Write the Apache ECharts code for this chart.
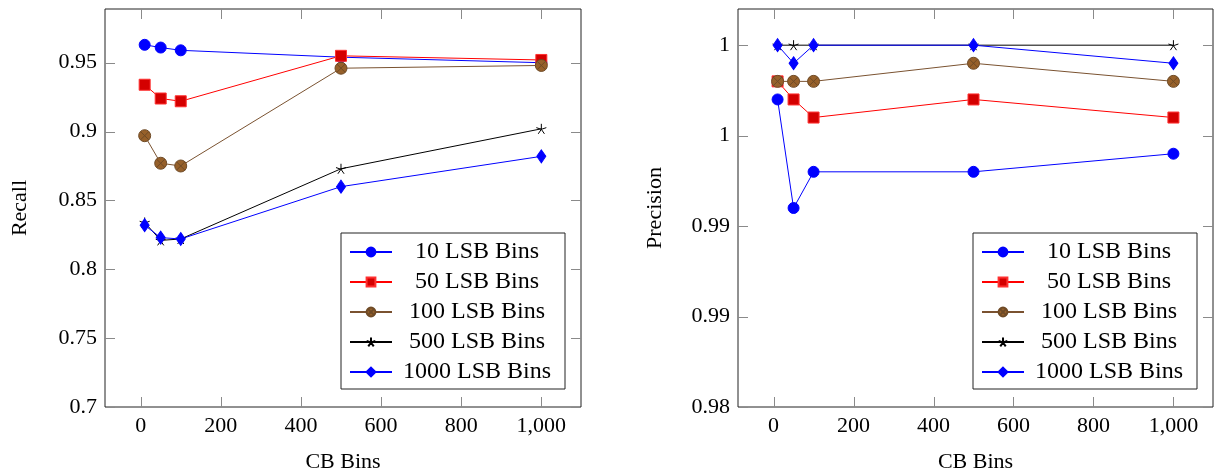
<!DOCTYPE html>
<html>
<head>
<meta charset="utf-8">
<script src="https://cdn.jsdelivr.net/npm/echarts@6/dist/echarts.min.js"></script>
<style>
  html, body { margin: 0; padding: 0; background: #fff; }
  #chart { width: 1214px; height: 475px; }
</style>
</head>
<body>
<div id="chart"></div>
<script>
const cbBins = [10, 50, 100, 500, 1000];
const seriesNames = ["10 LSB Bins", "50 LSB Bins", "100 LSB Bins", "500 LSB Bins", "1000 LSB Bins"];

const recall10 = [0.963, 0.961, 0.959, 0.954, 0.950];
const recall50 = [0.934, 0.924, 0.922, 0.955, 0.952];
const recall100 = [0.897, 0.877, 0.875, 0.946, 0.948];
const recall500 = [0.834, 0.821, 0.822, 0.873, 0.902];
const recall1000 = [0.832, 0.823, 0.822, 0.860, 0.882];

const precision10 = [0.997, 0.991, 0.993, 0.993, 0.994];
const precision50 = [0.998, 0.997, 0.996, 0.997, 0.996];
const precision100 = [0.998, 0.998, 0.998, 0.999, 0.998];
const precision500 = [1, 1, 1, 1, 1];
const precision1000 = [1, 0.999, 1, 1, 0.999];

const xTicks = [0, 200, 400, 600, 800, 1000];
const recallTicks = [0.7, 0.75, 0.8, 0.85, 0.9, 0.95];
const precisionTicks = [0.98, 0.985, 0.99, 0.995, 1];

const X_MIN = -89, X_MAX = 1099;
const FONT = '"Liberation Serif", "DejaVu Serif", serif';

const otimesPath = 'path://M0,-10 A10,10 0 1,1 0,10 A10,10 0 1,1 0,-10 Z M-7.07,-7.07 L7.07,7.07 M-7.07,7.07 L7.07,-7.07';
const starPath = 'path://M0,0 L0,-10 M0,0 L9.51,-3.09 M0,0 L5.88,8.09 M0,0 L-5.88,8.09 M0,0 L-9.51,-3.09';

// pgfplots default cycle list look
const styles = [
    { line: '#0000ff', symbol: 'circle', size: 11, fill: '#0000ff', border: '#0000ff' },
    { line: '#ff0000', symbol: 'rect', size: 11, fill: '#d40000', border: '#ff3030' },
    { line: '#7a5230', symbol: otimesPath, size: 12, fill: '#96602a', border: '#6e4a26' },
    { line: '#000000', symbol: starPath, size: 10, fill: '#000000', border: '#000000' },
    { line: '#0000ff', symbol: 'diamond', size: [9, 13], fill: '#0000ff', border: '#0000ff' }
];

const fmt = v => {
    const r = Math.round(v * 1000);
    return String(Math.round(r / 10) / 100);
};

function makeSeries(values, idx, axisIdx) {
    const s = styles[idx];
    return {
        name: seriesNames[idx],
        type: 'line',
        xAxisIndex: axisIdx,
        yAxisIndex: axisIdx,
        data: cbBins.map((x, i) => [x, values[i]]),
        symbol: s.symbol,
        symbolSize: s.size,
        showAllSymbol: true,
        z: 3,
        lineStyle: { color: s.line, width: 1 },
        itemStyle: { color: s.fill, borderColor: s.border, borderWidth: 1 },
        emphasis: { disabled: true }
    };
}

const labelStyle = { margin: 8, fontFamily: FONT, fontSize: 22, color: '#000' };
const nameStyle = { fontFamily: FONT, fontSize: 22, color: '#000' };

function plainAxis(extra) {
    return Object.assign({
        type: 'value',
        splitLine: { show: false },
        axisLine: { show: false, onZero: false },
        axisTick: { show: false },
        axisLabel: { show: false }
    }, extra);
}

function xAxes(gridIndex) {
    return [
        plainAxis({
            gridIndex: gridIndex, min: X_MIN, max: X_MAX, position: 'bottom',
            name: 'CB Bins', nameLocation: 'middle', nameGap: 44, nameTextStyle: nameStyle,
            axisLabel: Object.assign({ show: true, customValues: xTicks, formatter: v => v.toLocaleString('en-US') }, labelStyle)
        }),
        plainAxis({ gridIndex: gridIndex, min: X_MIN, max: X_MAX, position: 'top' })
    ];
}

function yAxes(gridIndex, name, min, max, ticks, gap) {
    return [
        plainAxis({
            gridIndex: gridIndex, min: min, max: max, position: 'left',
            name: name, nameLocation: 'middle', nameGap: gap, nameTextStyle: nameStyle,
            axisLabel: Object.assign({ show: true, customValues: ticks, formatter: fmt }, labelStyle)
        }),
        plainAxis({ gridIndex: gridIndex, min: min, max: max, position: 'right' })
    ];
}

function makeLegend(left) {
    return {
        data: seriesNames,
        orient: 'vertical',
        left: left, top: 233,
        z: 10,
        selectedMode: false,
        backgroundColor: '#fff',
        borderColor: '#222', borderWidth: 1, borderRadius: 0,
        padding: [7, 8, 5, 8],
        itemWidth: 42, itemHeight: 11, itemGap: 6,
        textStyle: {
            fontFamily: FONT, fontSize: 24, color: '#000',
            rich: { c: { width: 160, align: 'center', fontFamily: FONT, fontSize: 24, lineHeight: 24.5 } }
        },
        formatter: n => '{c|' + n + '}'
    };
}

const recallSets = [recall10, recall50, recall100, recall500, recall1000];
const precisionSets = [precision10, precision50, precision100, precision500, precision1000];

const series = [];
recallSets.forEach((v, i) => series.push(makeSeries(v, i, 0)));
precisionSets.forEach((v, i) => series.push(makeSeries(v, i, 2)));

const chart = echarts.init(document.getElementById('chart'));
chart.setOption({
    animation: false,
    grid: [
        { left: 105, right: 633, top: 9, bottom: 68, outerBoundsMode: 'none', containLabel: false,
          show: true, borderColor: '#222', borderWidth: 1, backgroundColor: 'transparent' },
        { left: 738, right: 1, top: 9, bottom: 68, outerBoundsMode: 'none', containLabel: false,
          show: true, borderColor: '#222', borderWidth: 1, backgroundColor: 'transparent' }
    ],
    xAxis: xAxes(0).concat(xAxes(1)),
    yAxis: yAxes(0, 'Recall', 0.7, 0.989, recallTicks, 74).concat(yAxes(1, 'Precision', 0.98, 1.002, precisionTicks, 72)),
    legend: [makeLegend(341), makeLegend(973)],
    series: series
});

// gray inward ticks on all four sides of each box, placed through the axes' own scales
const TICK = 10;
const snap = v => Math.round(v) + 0.5;
const tickLine = (x1, y1, x2, y2) => ({
    type: 'line', z: 50, silent: true,
    shape: { x1: x1, y1: y1, x2: x2, y2: y2 },
    style: { stroke: '#8a8a8a', lineWidth: 1 }
});

function boxTicks(axisIdx, yMin, yMax, yTicks) {
    const finder = { xAxisIndex: axisIdx, yAxisIndex: axisIdx };
    const out = [];
    xTicks.forEach(v => {
        const b = chart.convertToPixel(finder, [v, yMin]);
        const t = chart.convertToPixel(finder, [v, yMax]);
        const x = snap(b[0]);
        out.push(tickLine(x, b[1], x, b[1] - TICK));
        out.push(tickLine(x, t[1], x, t[1] + TICK));
    });
    yTicks.forEach(v => {
        const l = chart.convertToPixel(finder, [X_MIN, v]);
        const r = chart.convertToPixel(finder, [X_MAX, v]);
        const y = snap(l[1]);
        out.push(tickLine(l[0], y, l[0] + TICK, y));
        out.push(tickLine(r[0], y, r[0] - TICK, y));
    });
    return out;
}

chart.setOption({
    graphic: boxTicks(0, 0.7, 0.989, recallTicks).concat(boxTicks(2, 0.98, 1.002, precisionTicks))
});
</script>
</body>
</html>
